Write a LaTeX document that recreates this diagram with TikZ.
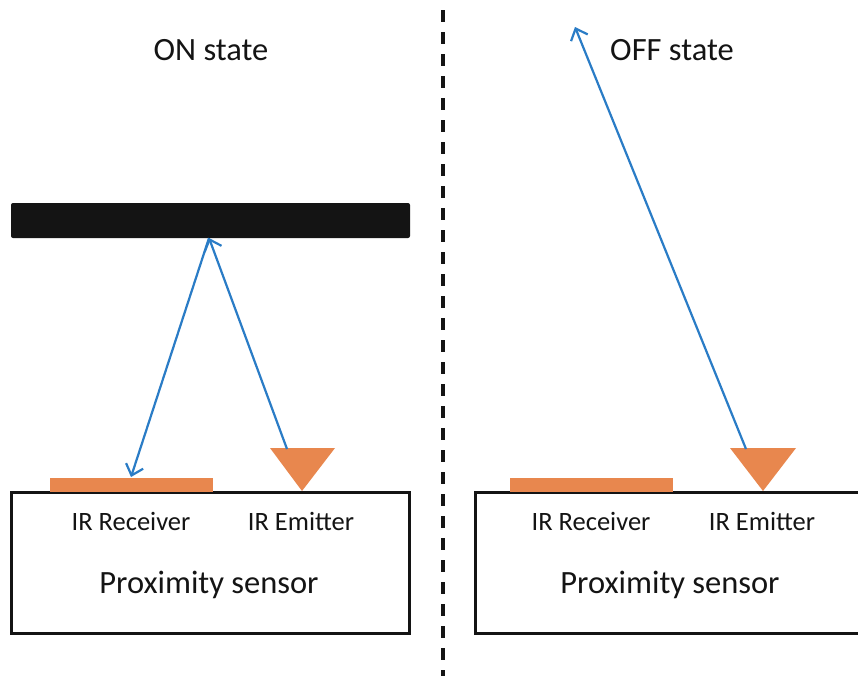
\documentclass[tikz,border=0pt]{standalone}
\usepackage{fontspec}
\setmainfont{Carlito}
\usetikzlibrary{arrows.meta}
\definecolor{rayblue}{HTML}{2A7CC6}
\definecolor{partorange}{HTML}{E8874E}
\definecolor{ink}{HTML}{141414}
\tikzset{
  lbl/.style={font=\fontsize{26.5}{26.5}\selectfont, text=ink, inner sep=0pt},
  title/.style={font=\fontsize{32.5}{32.5}\selectfont, text=ink, inner sep=0pt},
  sensorbox/.style={draw=ink, line width=3.2pt, minimum width=398pt, minimum height=141pt, inner sep=0pt, anchor=north west},
  receiver/.style={fill=partorange, minimum width=163pt, minimum height=14pt, inner sep=0pt},
  emitter/.style={fill=partorange},
  ray/.style={draw=rayblue, line width=2.2pt, -{Straight Barb[length=10pt,width=18pt,line width=2.2pt]}},
  divider/.style={draw=ink, line width=3.2pt, dash pattern=on 12pt off 10pt},
}
\begin{document}
\begin{tikzpicture}[x=1pt,y=-1pt]
\useasboundingbox (0,0) rectangle (858,675);
\clip (0,0) rectangle (858,675);
\fill[white] (0,0) rectangle (858,675);
% divider
\coordinate (dtop) at (443,10);
\coordinate (dbot) at (443,680);
\draw[divider] (dtop) -- (dbot);
% ===== ON state =====
\node[title] (ontitle) at (211,50) {ON state};
\node[fill=ink, rounded corners=2pt, minimum width=399pt, minimum height=35pt, inner sep=0pt] (bar) at (210.5,220.5) {};
\node[sensorbox] (boxL) at (10,491) {};
\node[receiver] (recL) at (131.5,485) {};
\coordinate (eLa) at (270,448);
\coordinate (eLb) at (335,448);
\coordinate (eLtip) at (302,491);
\fill[emitter] (eLa) -- (eLb) -- (eLtip) -- cycle;
\coordinate (eLout) at (287,449);
\coordinate (hitL) at (209,238);
\coordinate (recLin) at (131,477);
\draw[ray] (eLout) -- (hitL);
\draw[ray] (hitL) -- (recLin);
\node[lbl] (rxL) at (131,521) {IR Receiver};
\node[lbl] (txL) at (301,521) {IR Emitter};
\node[title] (psL) at (209,585) {Proximity sensor};
% ===== OFF state =====
\node[title] (offtitle) at (672,50) {OFF state};
\node[sensorbox] (boxR) at (474,491) {};
\node[receiver] (recR) at (591.5,485) {};
\coordinate (eRa) at (730,448);
\coordinate (eRb) at (796,448);
\coordinate (eRtip) at (763,491);
\fill[emitter] (eRa) -- (eRb) -- (eRtip) -- cycle;
\coordinate (eRout) at (746,449);
\coordinate (escR) at (575,27);
\draw[ray] (eRout) -- (escR);
\node[lbl] (rxR) at (591,521) {IR Receiver};
\node[lbl] (txR) at (762,521) {IR Emitter};
\node[title] (psR) at (670,585) {Proximity sensor};
\end{tikzpicture}
\end{document}
